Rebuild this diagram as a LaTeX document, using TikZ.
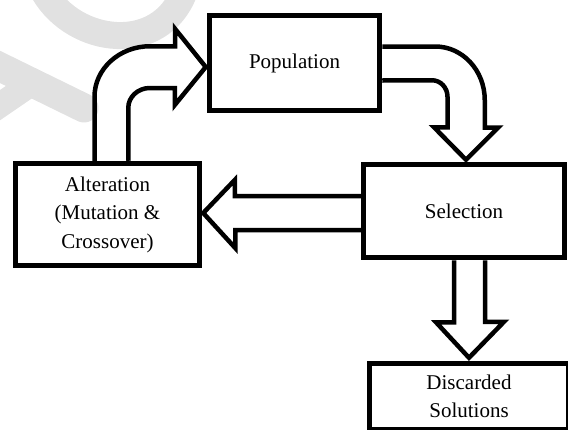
\documentclass[tikz,border=0pt]{standalone}
\usepackage{fontspec}
\setmainfont{Liberation Serif}
\usetikzlibrary{calc}
\definecolor{watermark}{RGB}{225, 225, 225}

\begin{document}
\begin{tikzpicture}[x=1pt, y=-1pt,
  box/.style={draw, line width=5.5, align=center, inner sep=0,
    font=\fontsize{21}{28.5}\selectfont},
  blockarrow/.style={draw, line width=4.5, line join=miter}]

  \useasboundingbox (0, 0) rectangle (568, 429);
  \clip (0, 0) rectangle (568, 429);

  % faint logo behind the chart
  \draw[watermark, line width=27] (44, -8) .. controls (75, 45) and (160, 55) .. (184, -8);
  \draw[watermark, line width=29, line cap=round] (-10, 62) -- (84, 108);
  \draw[watermark, line width=25] (-10, 112) -- (25, 88);

  \node[box, minimum width=170, minimum height=95] (pop) at (294.5, 63) {Population};
  \node[box, minimum width=201, minimum height=93] (sel) at (464, 211) {Selection};
  \node[box, minimum width=184, minimum height=102] (alt) at (107.5, 214.5)
    {Alteration\\(Mutation \&\\Crossover)};
  \node[box, minimum width=199, minimum height=66] (disc) at (469, 396.5)
    {Discarded\\Solutions};

  % alteration -> population
  \draw[blockarrow] ($(alt.north)+(-13, 0)$) -- ++(0, -64)
    arc[start angle=180, end angle=270, x radius=55.5, y radius=50.5]
    -- ++(25, 0) -- ++(0, -17.5) -- ($(pop.west)+(-1, 4)$) -- ++(-31, 38)
    -- ++(0, -17) -- ++(-25, 0)
    arc[start angle=270, end angle=180, x radius=21.5, y radius=20]
    -- ($(alt.north)+(21, 0)$);

  % population -> selection
  \draw[blockarrow] ($(pop.east)+(0, -16.5)$) -- ++(53, 0)
    arc[start angle=270, end angle=360, x radius=49.5, y radius=53.5]
    -- ++(0, 27.5) -- ++(13.5, 0) -- ($(sel.north)+(2, -2)$) -- ++(-32, -32.5)
    -- ++(13.5, 0) -- ++(0, -30.5)
    arc[start angle=0, end angle=-90, x radius=15.5, y radius=16.5]
    -- ($(pop.east)+(0, 17.5)$);

  % selection -> alteration
  \draw[blockarrow] ($(sel.west)+(0, -15)$) -- ++(-126, 0) -- ++(0, -16)
    -- ($(alt.east)+(1, -1.5)$) -- ++(32, 35) -- ++(0, -18)
    -- ($(sel.west)+(0, 19)$);

  % selection -> discarded
  \draw[blockarrow] ($(sel.south)+(-10, 0)$) -- ++(0, 62) -- ++(-18, 0)
    -- ($(disc.north)+(0, -3)$) -- ++(35, -36) -- ++(-19, 0)
    -- ($(sel.south)+(21, 0)$);

\end{tikzpicture}
\end{document}
